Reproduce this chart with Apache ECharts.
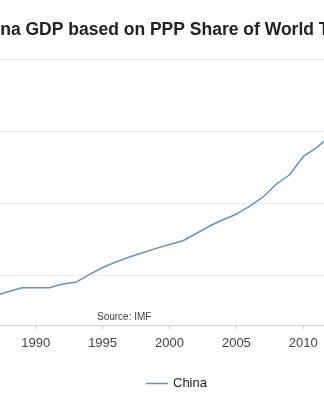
<!DOCTYPE html>
<html>
<head>
<meta charset="utf-8">
<script src="https://cdn.jsdelivr.net/npm/echarts@6/dist/echarts.min.js"></script>
<style>
  html, body { margin: 0; padding: 0; background: #fff; overflow: hidden; width: 324px; height: 400px; }
  #wrap { position: relative; width: 324px; height: 400px; overflow: hidden; }
  /* the chart canvas is wider than the window and shifted left */
  #chart { position: absolute; left: -140px; top: 0; width: 524px; height: 400px; }
</style>
</head>
<body>
<div id="wrap"><div id="chart"></div></div>
<script>
// China's share of world GDP (PPP), percent, IMF
const years = [1980, 1981, 1982, 1983, 1984, 1985, 1986, 1987, 1988, 1989,
               1990, 1991, 1992, 1993, 1994, 1995, 1996, 1997, 1998, 1999,
               2000, 2001, 2002, 2003, 2004, 2005, 2006, 2007, 2008, 2009,
               2010, 2011, 2012];
const chinaShare = [2.20, 2.30, 2.50, 2.70, 3.00, 3.20, 3.38, 3.58, 3.85, 4.11,
                    4.12, 4.12, 4.38, 4.49, 5.02, 5.52, 5.90, 6.25, 6.54, 6.85,
                    7.12, 7.38, 7.88, 8.40, 8.84, 9.22, 9.79, 10.42, 11.32, 11.98,
                    13.23, 13.85, 14.65];
const yGridValues = [5, 10, 15, 20];

const font = "'Liberation Sans', Arial, Helvetica, sans-serif";
const lineColor = '#6593c0';
const chart = echarts.init(document.getElementById('chart'), null, { renderer: 'canvas' });

chart.setOption({
  backgroundColor: '#ffffff',
  animation: false,
  title: [
    {
      text: 'China GDP based on PPP Share of World Total',
      left: 112, top: 21, padding: 0,
      textStyle: { fontFamily: font, fontSize: 17.5, fontWeight: 'bold', color: '#222' }
    },
    {
      text: 'Source: IMF',
      left: 237, top: 312, padding: 0,
      textStyle: { fontFamily: font, fontSize: 10, fontWeight: 'normal', color: '#444' }
    }
  ],
  legend: {
    data: [{ name: 'China', icon: 'rect' }],
    left: 286, top: 377,
    padding: 0,
    itemWidth: 22, itemHeight: 1.5,
    itemStyle: { color: lineColor },
    textStyle: { fontFamily: font, fontSize: 13, color: '#222' }
  },
  grid: { left: 41.9, right: 27.2, top: 59, bottom: 74.6, containLabel: false },
  xAxis: {
    type: 'value',
    min: 1980, max: 2014, interval: 5,
    axisLine: { show: true, lineStyle: { color: '#cfcfcf', width: 1 } },
    axisTick: { show: true, length: 4, lineStyle: { color: '#cfcfcf' } },
    axisLabel: { color: '#444', fontFamily: font, fontSize: 13, margin: 12,
                 formatter: v => String(v) },
    splitLine: { show: false }
  },
  yAxis: {
    type: 'value',
    min: 1.5, max: 20,
    axisLine: { show: false },
    axisTick: { show: false },
    axisLabel: { show: false },
    splitLine: { show: false }
  },
  series: [{
    name: 'China',
    type: 'line',
    data: years.map((y, i) => [y, chinaShare[i]]),
    symbol: 'none',
    showSymbol: false,
    lineStyle: { color: lineColor, width: 1.5 },
    itemStyle: { color: lineColor },
    z: 3,
    // horizontal grid lines at the y-axis steps, kept beneath the line
    markLine: {
      silent: true,
      z: 1,
      symbol: ['none', 'none'],
      label: { show: false },
      lineStyle: { color: '#ebebeb', type: 'solid', width: 1 },
      emphasis: { disabled: true },
      data: yGridValues.map(v => ({ yAxis: v }))
    }
  }]
});
</script>
</body>
</html>
